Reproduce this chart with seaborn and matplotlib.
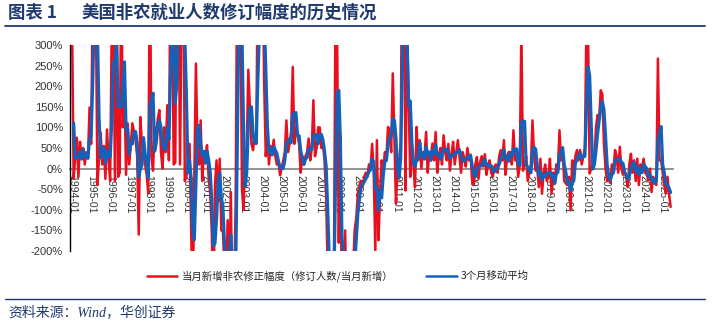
import numpy as np
import pandas as pd
import matplotlib
matplotlib.use('Agg')
import matplotlib.pyplot as plt
from matplotlib.lines import Line2D
import seaborn as sns

# ---------------- data (monthly, 1994-01 .. 2025-06, %) ----------------
revision_pct = [
    # 1994
    350, -25, 30, 75, -20, 65, 25, 50, 10, 40, 25, 148,
    # 1995
    60, 420, 650, 380, -40, 30, 88, 10, 55, -25, 95, 20,
    # 1996
    -30, 350, 450, -30, 500, -20, -10, 480, 100, 197, -15, 110,
    # 1997
    10, 60, 110, 90, 70, 30, -160, 125, 60, 40, 10, -15,
    # 1998
    -60, 525, 30, -5, 100, 90, 120, 142, 40, 0, 100, 40,
    # 1999
    154, 20, 500, 450, 10, 15, 600, 500, 10, 400, 600, -30,
    # 2000
    -20, 20, 60, -150, -350, -20, 255, 50, 10, 117, -30, 40,
    # 2001
    30, 57, -20, -60, -154, -350, -40, 20, -80, 24, -150, -150,
    # 2002
    -250, -300, -125, -300, -57, -400, -300, -100, 500, 600, 450, -50,
    # 2003
    -100, 20, 50, 240, 150, 60, 45, 80, 60, 500, 450, 400,
    # 2004
    500, 206, 30, 80, 10, 55, 35, 70, 30, 10, 15, -16,
    # 2005
    0, 20, 40, 117, 40, 60, 90, 247, 60, 100, 80, 60,
    # 2006
    -10, 30, 10, 30, 40, 73, 20, 50, 166, 30, 50, 100,
    # 2007
    100, 50, 60, 20, -60, -250, -350, -300, -300, -200, 450, 300,
    # 2008
    -180, 80, -400, -300, -150, -350, -350, -400, -300, -250, -150, -120,
    # 2009
    -60, -40, -30, -45, -20, -10, -20, 10, 0, 60, -10, -198,
    # 2010
    69, -174, -60, 20, -10, 40, 30, 101, 93, 40, 231, 80,
    # 2011
    -85, 0, 20, 60, 600, 650, -53, 350, 162, -20, 50, 10,
    # 2012
    -45, 101, 20, 69, 0, 40, 30, 89, -10, 40, 30, 61,
    # 2013
    20, 89, -10, 30, 50, 10, 81, 40, 20, 60, -5, 35,
    # 2014
    65, 10, 40, 69, 30, -10, 40, 25, 5, 50, 20, 30,
    # 2015
    -30, -40, 10, 28, -25, 15, 30, 5, 35, -15, 10, 20,
    # 2016
    -10, -20, 5, 10, -10, 30, 45, 20, 69, -15, 30, 40,
    # 2017
    40, 10, 93, 20, 32, -20, 10, 340, -5, 10, 30, -30,
    # 2018
    -10, 10, 117, 30, -5, 0, -45, 24, -61, -10, 10, -30,
    # 2019
    -20, 24, -61, -10, -36, 10, 0, 93, 20, 40, -30, -36,
    # 2020
    -40, -20, -101, 20, -10, 30, 45, 20, 45, 10, 30, 50,
    # 2021
    360, 330, -12, 0, 10, 20, 101, 130, 120, 190, 180, 60,
    # 2022
    0, -30, -20, -35, 10, -5, 45, 30, -10, 53, 0, -15,
    # 2023
    -10, -20, -45, 10, 36, -10, 20, -30, 24, -40, 10, 0,
    # 2024
    24, -10, -15, -28, 0, -57, -20, -30, -40, 267, 20, 20,
    # 2025
    -10, -40, -60, -20, -60, -93,
]

ma3_pct = [
    # 1994
    np.nan, 110, 25, 27, 28, 40, 23, 47, 28, 33, 25, 71,
    # 1995
    78, 209, 377, 483, 330, 123, 26, 43, 51, 13, 42, 30,
    # 1996
    28, 113, 257, 257, 307, 150, 157, 150, 190, 259, 94, 97,
    # 1997
    35, 60, 60, 87, 90, 63, -20, -2, 8, 75, 37, 12,
    # 1998
    -22, 150, 165, 183, 42, 62, 103, 117, 101, 61, 47, 47,
    # 1999
    98, 71, 225, 323, 320, 158, 208, 372, 370, 303, 337, 323,
    # 2000
    183, -10, 20, -23, -147, -173, -38, 95, 105, 59, 32, 42,
    # 2001
    13, 42, 22, -8, -78, -188, -181, -123, -33, -12, -69, -92,
    # 2002
    -183, -233, -225, -242, -161, -252, -252, -267, 33, 333, 517, 333,
    # 2003
    100, -43, -10, 103, 147, 150, 85, 62, 62, 213, 337, 450,
    # 2004
    450, 369, 245, 105, 40, 48, 33, 53, 45, 37, 18, 3,
    # 2005
    0, 1, 20, 59, 66, 72, 63, 132, 132, 136, 80, 80,
    # 2006
    43, 27, 10, 23, 27, 48, 44, 48, 79, 82, 82, 60,
    # 2007
    83, 83, 70, 43, 7, -97, -220, -300, -317, -267, -17, 183,
    # 2008
    190, 67, -167, -207, -283, -267, -283, -367, -350, -317, -233, -173,
    # 2009
    -110, -73, -43, -38, -32, -25, -17, -7, -3, 23, 17, -49,
    # 2010
    -46, -101, -55, -71, -17, 17, 20, 57, 75, 78, 121, 117,
    # 2011
    75, -2, -22, 27, 227, 437, 399, 316, 153, 164, 64, 13,
    # 2012
    5, 22, 25, 63, 30, 36, 23, 53, 36, 40, 20, 44,
    # 2013
    37, 57, 33, 36, 23, 30, 47, 44, 47, 40, 25, 30,
    # 2014
    32, 37, 38, 40, 46, 30, 20, 18, 23, 27, 25, 33,
    # 2015
    7, -13, -20, -1, 4, 6, 7, 17, 23, 8, 10, 5,
    # 2016
    7, -3, -8, -2, 2, 10, 22, 32, 45, 25, 28, 18,
    # 2017
    37, 30, 48, 41, 48, 11, 7, 110, 115, 115, 12, 3,
    # 2018
    -3, -10, 39, 52, 47, 8, -17, -7, -27, -16, -20, -10,
    # 2019
    -13, -9, -19, -16, -36, -12, -9, 34, 38, 51, 10, -9,
    # 2020
    -35, -32, -54, -34, -30, 13, 22, 32, 37, 25, 28, 30,
    # 2021
    147, 247, 226, 106, -1, 10, 44, 84, 117, 147, 163, 143,
    # 2022
    80, 10, -17, -28, -15, -10, 17, 23, 22, 24, 14, 13,
    # 2023
    -8, -15, -25, -18, 0, 12, 15, -7, 5, -15, -2, -10,
    # 2024
    11, 5, 0, -18, -14, -28, -26, -36, -30, 66, 82, 102,
    # 2025
    10, -10, -37, -40, -47, -58,
]

x_tick_labels = [
    '1994-01', '1995-01', '1996-01', '1997-01', '1998-01', '1999-01', '2000-01', '2001-01',
    '2002-01', '2003-01', '2004-01', '2005-01', '2006-01', '2007-01', '2008-01', '2009-01',
    '2010-01', '2011-01', '2012-01', '2013-01', '2014-01', '2015-01', '2016-01', '2017-01',
    '2018-01', '2019-01', '2020-01', '2021-01', '2022-01', '2023-01', '2024-01', '2025-01',
]
y_ticks = [-200, -150, -100, -50, 0, 50, 100, 150, 200, 250, 300]

series_red_name = '当月新增非农修正幅度（修订人数/当月新增）'
series_blue_name = '3个月移动平均'
title_prefix = '图表 1'
title_text = '美国非农就业人数修订幅度的历史情况'
source_text = '资料来源：Wind，华创证券'

# ---------------- styling ----------------
sns.set_style('white')
plt.rcParams['font.family'] = ['Liberation Sans', 'Noto Sans CJK SC', 'DejaVu Sans']
plt.rcParams['axes.unicode_minus'] = False

RED = '#E8101E'
BLUE = '#1262BC'
NAVY = '#1F3A6E'

W, H = 716, 327
fig = plt.figure(figsize=(W / 100, H / 100), dpi=100)

ax_left, ax_right, ax_top, ax_bottom = 70, 673, 45, 251
ax = fig.add_axes([ax_left / W, 1 - ax_bottom / H, (ax_right - ax_left) / W, (ax_bottom - ax_top) / H])

df = pd.DataFrame({
    'month': np.arange(len(revision_pct)),
    'revision': revision_pct,
    'ma3': ma3_pct,
})

sns.lineplot(data=df, x='month', y='revision', color=RED, linewidth=1.8,
             estimator=None, ax=ax, label=series_red_name)
sns.lineplot(data=df.dropna(), x='month', y='ma3', color=BLUE, linewidth=2.3,
             estimator=None, ax=ax, label=series_blue_name)

ax.set_xlim(-1.3, 378.5)
ax.set_ylim(-200, 300)
ax.set_xlabel('')
ax.set_ylabel('')

for s in ('top', 'right'):
    ax.spines[s].set_visible(False)
ax.spines['bottom'].set_position(('data', 0))
ax.spines['bottom'].set_color('#808080')
ax.spines['bottom'].set_linewidth(1.2)
ax.spines['bottom'].set_zorder(1)
ax.spines['left'].set_color('black')
ax.spines['left'].set_linewidth(1.0)

ax.set_yticks(y_ticks)
ax.set_yticklabels([f'{v}%' for v in y_ticks])
ax.set_xticks(np.arange(len(x_tick_labels)) * 12)
ax.set_xticklabels(x_tick_labels)

ax.tick_params(axis='x', direction='out', length=3, width=0.8, color='#808080',
               pad=1.5, labelsize=7.5, labelcolor='#333333', labelrotation=-90)
ax.tick_params(axis='y', direction='out', length=3, width=0.8, color='black',
               pad=2, labelsize=8, labelcolor='#333333')
for lbl in ax.get_xticklabels():
    lbl.set_rotation(-90)
    lbl.set_ha('center')
    lbl.set_va('top')
ax.grid(False)

handles, labels = ax.get_legend_handles_labels()
ax.get_legend().remove()
leg = fig.legend(handles, labels, loc='center', bbox_to_anchor=(338 / W, 1 - 276 / H),
                 ncol=2, frameon=False, handlelength=2.9,
                 columnspacing=3.2, handletextpad=0.4,
                 prop={'family': ['Noto Sans CJK SC', 'DejaVu Sans'], 'size': 7.5})
for ln in leg.get_lines():
    ln.set_linewidth(1.8)

# title and rules
fig.text(8 / W, 1 - 13 / H, title_prefix, fontsize=12.5, fontweight='bold', color=NAVY,
         va='center', ha='left', family=['Noto Sans CJK SC', 'DejaVu Sans'])
fig.text(82 / W, 1 - 13 / H, title_text, fontsize=12.5, fontweight='bold', color=NAVY,
         va='center', ha='left', family=['Noto Sans CJK SC', 'DejaVu Sans'])
fig.add_artist(Line2D([5 / W, 705 / W], [1 - 25.5 / H] * 2, transform=fig.transFigure,
                      color=NAVY, linewidth=1.3))
fig.add_artist(Line2D([5 / W, 705 / W], [1 - 299 / H] * 2, transform=fig.transFigure,
                      color=NAVY, linewidth=1.0))
fig.text(8 / W, 1 - 312 / H, source_text, fontsize=10, color=NAVY, style='italic',
         va='center', ha='left', family=['Liberation Serif', 'Noto Sans CJK SC'])

fig.savefig('out.png', dpi=100)
